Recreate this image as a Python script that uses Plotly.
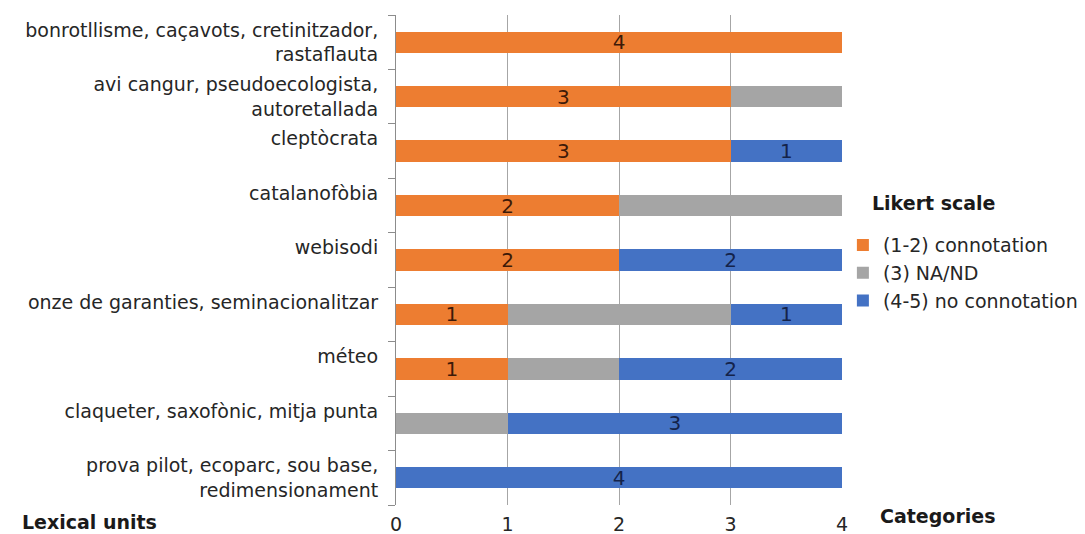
import plotly.graph_objects as go

categories = [
    "bonrotllisme, caçavots, cretinitzador,<br>rastaflauta",
    "avi cangur, pseudoecologista,<br>autoretallada",
    "cleptòcrata",
    "catalanofòbia",
    "webisodi",
    "onze de garanties, seminacionalitzar",
    "méteo",
    "claqueter, saxofònic, mitja punta",
    "prova pilot, ecoparc, sou base,<br>redimensionament",
]
connotation = [4, 3, 3, 2, 2, 1, 1, 0, 0]
na_nd = [0, 1, 0, 2, 0, 2, 1, 1, 0]
no_connotation = [0, 0, 1, 0, 2, 1, 2, 3, 4]
series_names = ["(1-2) connotation", "(3) NA/ND", "(4-5) no connotation"]
x_ticks = [0, 1, 2, 3, 4]

FONT = "DejaVu Sans, Liberation Sans, Arial, sans-serif"
colors = ["#ED7D31", "#A5A5A5", "#4472C4"]
label_colors = ["#3d1a08", "#333333", "#14234a"]

cat_ids = [f"c{i}" for i in range(len(categories))]
tick_text = [c if "<br>" in c else c + "<br> " for c in categories]

fig = go.Figure()
for name, vals, col, lc, show in zip(series_names,
                                     [connotation, na_nd, no_connotation],
                                     colors, label_colors, [True, False, True]):
    fig.add_trace(go.Bar(
        y=cat_ids, x=vals, orientation="h", name=name,
        marker=dict(color=col, line=dict(width=0)),
        text=[str(v) if (v and show) else "" for v in vals],
        textposition="inside", insidetextanchor="middle",
        textangle=0, constraintext="none",
        textfont=dict(family=FONT, size=20, color=lc),
        hoverinfo="x+name",
    ))

fig.update_layout(
    barmode="stack",
    bargap=0.61,
    width=1085, height=534,
    margin=dict(l=396, r=243, t=15, b=29, autoexpand=False),
    paper_bgcolor="white", plot_bgcolor="white",
    font=dict(family=FONT, size=19, color="#262626"),
    legend=dict(
        x=1.002, xanchor="left", y=0.569, yanchor="top",
        traceorder="normal",
        font=dict(size=19, color="#262626"),
        itemwidth=30, tracegroupgap=0, bgcolor="rgba(0,0,0,0)",
    ),
    xaxis=dict(
        range=[0, 4], tickvals=x_ticks, ticktext=[str(t) for t in x_ticks],
        showgrid=True, gridcolor="#a6a6a6", gridwidth=1,
        zeroline=False, showline=False, ticks="",
        ticklabelstandoff=6, automargin=False,
        tickfont=dict(size=19, color="#262626"),
    ),
    yaxis=dict(
        categoryorder="array", categoryarray=cat_ids,
        tickvals=cat_ids, ticktext=tick_text,
        autorange="reversed",
        showgrid=False, zeroline=False,
        showline=True, linecolor="#8c8c8c", linewidth=1,
        ticks="outside", ticklen=7, tickcolor="#8c8c8c", tickson="boundaries",
        ticklabelstandoff=13, automargin=False,
        tickfont=dict(size=19, color="#262626"),
    ),
    annotations=[
        dict(text="<b>Lexical units</b>", xref="paper", yref="paper",
             x=-0.843, y=-0.035, xanchor="left", yanchor="middle",
             showarrow=False, font=dict(size=19, color="#1a1a1a")),
        dict(text="<b>Categories</b>", xref="paper", yref="paper",
             x=1.081, y=-0.022, xanchor="left", yanchor="middle",
             showarrow=False, font=dict(size=19, color="#1a1a1a")),
        dict(text="<b>Likert scale</b>", xref="paper", yref="paper",
             x=1.063, y=0.616, xanchor="left", yanchor="middle",
             showarrow=False, font=dict(size=19, color="#1a1a1a")),
    ],
)

fig.write_html("out.html")
